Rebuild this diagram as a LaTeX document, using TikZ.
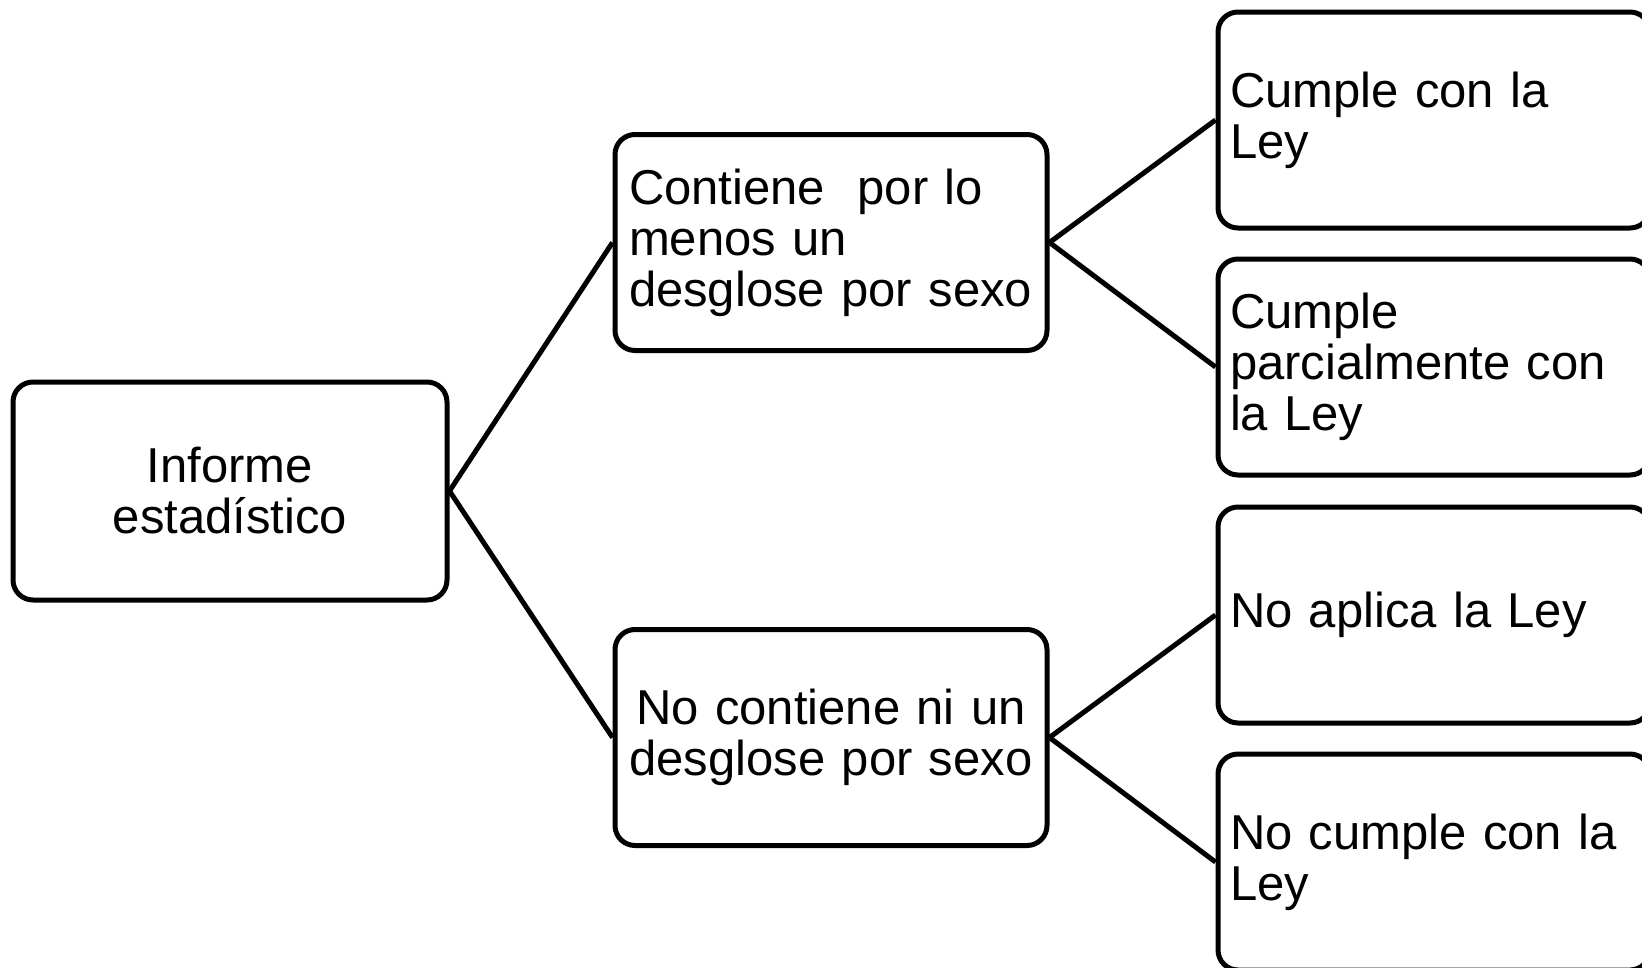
\documentclass[tikz,border=0pt]{standalone}
\usepackage{fontspec}
\setmainfont{Liberation Sans}
\begin{document}
\begin{tikzpicture}[x=1pt,y=-1pt,
  box/.style={draw=black, line width=5pt, rounded corners=20pt, fill=white,
    minimum width=432pt, minimum height=216pt, inner xsep=12pt, inner ysep=0pt,
    text width=408pt, font=\fontsize{49}{51}\selectfont},
  lbox/.style={box, align=left},
  cbox/.style={box, align=center},
  link/.style={draw=black, line width=5pt}
]
\useasboundingbox (0,0) rectangle (1642,967);
\node[cbox, minimum width=434pt, text width=410pt, minimum height=218pt] (root) at (230,491) {Informe\\estadístico};
\node[lbox, inner xsep=6pt, text width=420pt] (mt) at (831,242.5) {\hspace*{8pt}Contiene\ \ por lo\\\hspace*{8pt}menos un\\\hspace*{8pt}desglose por sexo};
\node[cbox, inner xsep=6pt, text width=420pt] (mb) at (831,737.5) {No contiene ni un\\desglose por sexo};
\node[lbox] (r1) at (1434,120) {Cumple con la\\Ley};
\node[lbox] (r2) at (1434,367) {Cumple\\parcialmente con\\la Ley};
\node[lbox] (r3) at (1434,615) {No aplica la Ley};
\node[lbox] (r4) at (1434,862) {No cumple con la\\Ley};
\draw[link] (root.east) -- (mt.west);
\draw[link] (root.east) -- (mb.west);
\draw[link] (mt.east) -- (r1.west);
\draw[link] (mt.east) -- (r2.west);
\draw[link] (mb.east) -- (r3.west);
\draw[link] (mb.east) -- (r4.west);
\end{tikzpicture}
\end{document}
